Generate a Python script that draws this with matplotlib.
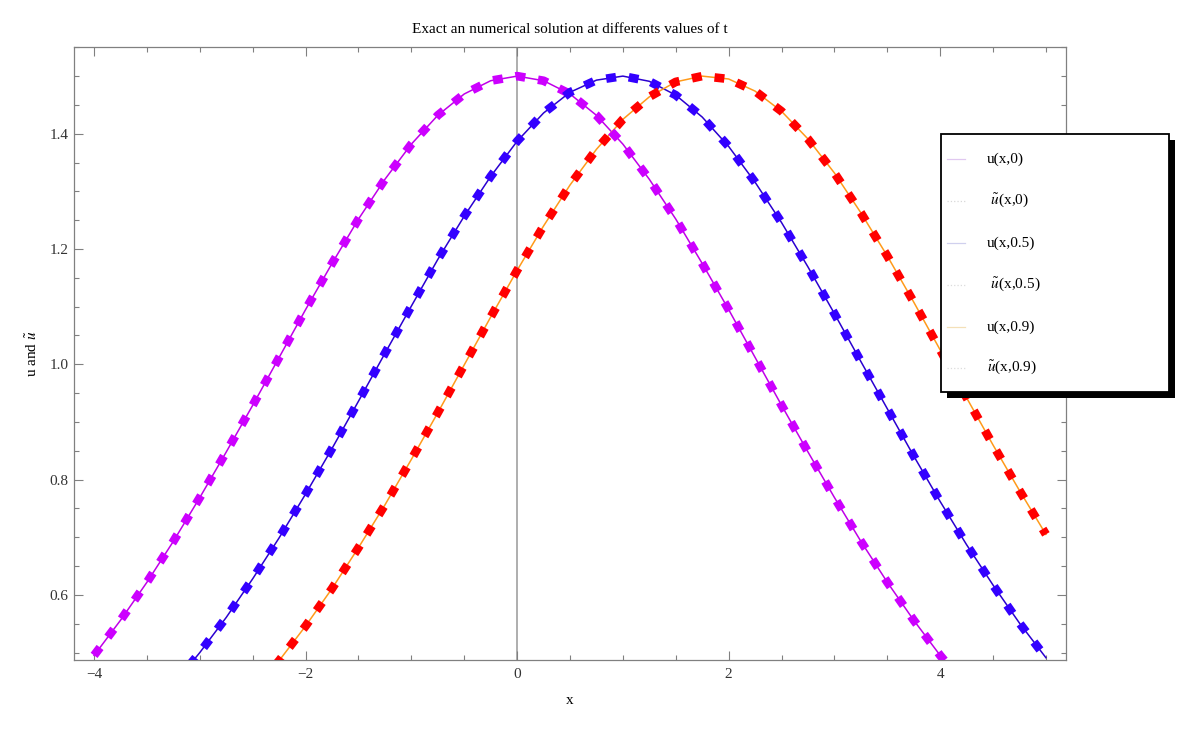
import matplotlib
matplotlib.use('Agg')
import matplotlib.pyplot as plt
from matplotlib.lines import Line2D
from matplotlib.patches import Rectangle
from matplotlib.ticker import MultipleLocator

plt.rcParams['font.family'] = ['Liberation Serif', 'DejaVu Serif']
plt.rcParams['mathtext.fontset'] = 'stix'

# values (exact and numerical curves coincide)
x = [-4.0, -3.75, -3.5, -3.25, -3.0, -2.75, -2.5, -2.25, -2.0, -1.75, -1.5, -1.25,
     -1.0, -0.75, -0.5, -0.25, 0.0, 0.25, 0.5, 0.75, 1.0, 1.25, 1.5, 1.75,
     2.0, 2.25, 2.5, 2.75, 3.0, 3.25, 3.5, 3.75, 4.0, 4.25, 4.5, 4.75, 5.0]
u_t0 = [0.495, 0.556, 0.622, 0.693, 0.769, 0.848, 0.929, 1.012, 1.095, 1.175, 1.252, 1.321,
        1.382, 1.432, 1.469, 1.492, 1.5, 1.492, 1.469, 1.432, 1.382, 1.321, 1.252, 1.175,
        1.095, 1.012, 0.929, 0.848, 0.769, 0.693, 0.622, 0.556, 0.495, 0.44, 0.389, 0.343, 0.302]
u_t05 = [0.305, 0.347, 0.393, 0.444, 0.5, 0.561, 0.628, 0.699, 0.775, 0.854, 0.936, 1.019,
         1.101, 1.182, 1.257, 1.326, 1.387, 1.436, 1.472, 1.493, 1.5, 1.491, 1.467, 1.429,
         1.378, 1.316, 1.246, 1.169, 1.088, 1.005, 0.923, 0.841, 0.762, 0.687, 0.617, 0.551, 0.491]
u_t09 = [0.199, 0.228, 0.26, 0.296, 0.336, 0.381, 0.431, 0.486, 0.546, 0.611, 0.682, 0.756,
         0.835, 0.916, 0.999, 1.082, 1.163, 1.24, 1.311, 1.373, 1.425, 1.464, 1.49, 1.5,
         1.495, 1.474, 1.439, 1.391, 1.332, 1.263, 1.188, 1.108, 1.025, 0.942, 0.86, 0.781, 0.705]

legend_labels = ['u(x,0)', r' $\tilde{u}$(x,0)', 'u(x,0.5)', r' $\tilde{u}$(x,0.5)',
                 'u(x,0.9)', r'$\tilde{u}$(x,0.9)']

W, H = 1200, 732
fig = plt.figure(figsize=(12, 7.32), dpi=100)
ax = fig.add_axes([74 / W, 1 - 660 / H, (1066 - 74) / W, (660 - 47) / H])

ax.axvline(0, color='#999999', lw=1.1, zorder=0.5)
series = [(u_t0, '#c000e8', '#cc00ff'), (u_t05, '#2a00d0', '#3300ff'), (u_t09, '#ff9a1a', '#ff0000')]
# thin exact curves first, thick dashed numerical ones on top
for y, thin, thick in series:
    ax.plot(x, y, color=thin, lw=1.1, zorder=2)
for y, thin, thick in series:
    ax.plot(x, y, color=thick, lw=6.2, dashes=(1.15, 1.5), dash_capstyle='butt', zorder=3)

ax.set_xlim(-4.19, 5.19)
ax.set_ylim(0.487, 1.5505)
ax.xaxis.set_major_locator(MultipleLocator(2))
ax.xaxis.set_minor_locator(MultipleLocator(0.5))
ax.yaxis.set_major_locator(MultipleLocator(0.2))
ax.yaxis.set_minor_locator(MultipleLocator(0.05))
ax.tick_params(which='both', direction='in', top=True, right=True, color='#808080',
               labelcolor='#333333', labelsize=11, width=0.8)
ax.tick_params(which='major', length=6.5, pad=4)
ax.tick_params(which='minor', length=3.5)
ax.tick_params(axis='x', pad=6)
for s in ax.spines.values():
    s.set_color('#808080')
    s.set_linewidth(0.9)

ax.set_title('Exact an numerical solution at differents values of t', fontsize=11, pad=10)
ax.set_xlabel('x', fontsize=11, labelpad=9)
ax.set_ylabel(r'u and $\tilde{u}$', fontsize=11, labelpad=7)

# legend box with a hard shadow
bx0, by0, bx1, by1 = 940.7, 134.3, 1169, 391.7
fig.add_artist(Rectangle(((bx0 + 6) / W, 1 - (by1 + 6) / H), (bx1 - bx0) / W, (by1 - by0) / H,
                         transform=fig.transFigure, facecolor='black', edgecolor='none', zorder=9))
fig.add_artist(Rectangle((bx0 / W, 1 - by1 / H), (bx1 - bx0) / W, (by1 - by0) / H,
                         transform=fig.transFigure, facecolor='white', edgecolor='black', lw=1.3, zorder=10))
hcolors = ['#e0c8f0', '#d8d8d8', '#d0d0ee', '#dcdcdc', '#f4e0b8', '#dcdcdc']
hstyles = ['-', ':', '-', ':', '-', ':']
rows = [159, 201, 243, 285, 327, 368]
for lab, hc, hs, py in zip(legend_labels, hcolors, hstyles, rows):
    fy = 1 - py / H
    fig.add_artist(Line2D([947 / W, 965 / W], [fy, fy], transform=fig.transFigure,
                          color=hc, lw=0.9, ls=hs, zorder=11))
    fig.text(987 / W, fy, lab, fontsize=11, va='center', ha='left', zorder=11)

fig.savefig('out.png', dpi=100)
